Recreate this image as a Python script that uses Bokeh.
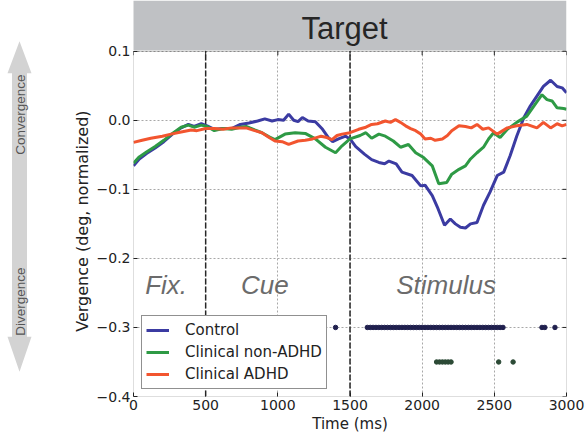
import math
from bokeh.plotting import figure
from bokeh.layouts import row
from bokeh.models import Range1d, FixedTicker, Label, BoxAnnotation
from bokeh.core.properties import value
from bokeh.embed import file_html
from bokeh.resources import INLINE

# ---------------- data ----------------
SERIES_NAMES = ["Control", "Clinical non-ADHD", "Clinical ADHD"]

T_CTRL = [0, 40, 90, 150, 210, 270, 330, 380, 420, 470, 510, 560, 620, 680, 740, 800,
          860, 910, 960, 1000, 1040, 1075, 1110, 1140, 1170, 1210, 1260, 1310, 1350, 1380,
          1420, 1470, 1500, 1540, 1600, 1650, 1700, 1740, 1770, 1820, 1860, 1930, 1990,
          2020, 2070, 2110, 2155, 2195, 2230, 2265, 2300, 2335, 2380, 2425, 2470, 2520,
          2565, 2610, 2655, 2705, 2750, 2795, 2840, 2890, 2935, 2970, 3000]
V_CTRL = [-0.066, -0.056, -0.048, -0.040, -0.031, -0.020, -0.011, -0.006, -0.009, -0.005,
          -0.008, -0.013, -0.012, -0.012, -0.006, -0.004, -0.001, 0.002, -0.001, 0.001,
          0.000, 0.009, 0.000, -0.002, 0.004, -0.001, -0.002, -0.013, -0.025, -0.031,
          -0.027, -0.023, -0.027, -0.038, -0.049, -0.057, -0.061, -0.063, -0.059, -0.063,
          -0.075, -0.080, -0.095, -0.094, -0.109, -0.128, -0.152, -0.143, -0.150, -0.155,
          -0.156, -0.150, -0.148, -0.123, -0.104, -0.080, -0.075, -0.051, -0.023, 0.004,
          0.021, 0.035, 0.049, 0.058, 0.049, 0.047, 0.040]

T_NON = [0, 40, 90, 150, 210, 270, 330, 380, 420, 470, 510, 560, 620, 680, 740, 780, 840,
         890, 940, 980, 1050, 1120, 1190, 1260, 1330, 1400, 1445, 1500, 1570, 1610, 1650,
         1700, 1745, 1800, 1850, 1905, 1955, 2010, 2070, 2115, 2170, 2205, 2255, 2300,
         2335, 2380, 2425, 2460, 2495, 2540, 2590, 2655, 2725, 2775, 2830, 2865, 2900,
         2935, 2980, 3000]
V_NON = [-0.062, -0.053, -0.046, -0.038, -0.029, -0.019, -0.010, -0.007, -0.010, -0.007,
         -0.009, -0.015, -0.012, -0.013, -0.010, -0.009, -0.014, -0.018, -0.024, -0.028,
         -0.020, -0.018, -0.019, -0.027, -0.039, -0.047, -0.037, -0.027, -0.022, -0.018,
         -0.026, -0.020, -0.023, -0.030, -0.039, -0.035, -0.047, -0.054, -0.066, -0.092,
         -0.090, -0.078, -0.071, -0.066, -0.056, -0.047, -0.039, -0.027, -0.018, -0.025,
         -0.013, -0.003, 0.006, 0.021, 0.037, 0.030, 0.028, 0.018, 0.017, 0.016]

T_ADHD = [0, 60, 120, 200, 260, 330, 400, 440, 500, 560, 620, 680, 740, 780, 840, 890,
          940, 980, 1030, 1075, 1140, 1190, 1240, 1300, 1340, 1375, 1410, 1445, 1500, 1560,
          1610, 1650, 1690, 1745, 1780, 1815, 1850, 1885, 1920, 1955, 1990, 2020, 2060,
          2090, 2140, 2175, 2205, 2255, 2300, 2340, 2380, 2420, 2460, 2520, 2590, 2655,
          2725, 2795, 2840, 2890, 2935, 2970, 3000]
V_ADHD = [-0.032, -0.029, -0.026, -0.023, -0.020, -0.017, -0.014, -0.015, -0.012, -0.012,
          -0.013, -0.011, -0.011, -0.011, -0.015, -0.018, -0.025, -0.030, -0.031, -0.035,
          -0.030, -0.029, -0.027, -0.023, -0.025, -0.028, -0.022, -0.020, -0.018, -0.013,
          -0.010, -0.006, -0.005, -0.001, -0.003, 0.001, -0.003, -0.008, -0.012, -0.015,
          -0.020, -0.027, -0.026, -0.029, -0.027, -0.022, -0.015, -0.008, -0.009, -0.011,
          -0.006, -0.013, -0.011, -0.020, -0.011, -0.008, -0.006, -0.011, -0.003, -0.011,
          -0.005, -0.008, -0.006]

# significance markers (time bins), and the level they are drawn at
SIG_CTRL_T = [1400, 1620, 1640, 1660, 1680, 1700, 1720, 1740, 1760, 1780, 1800, 1820,
              1840, 1860, 1880, 1900, 1920, 1940, 1960, 1980, 2000, 2020, 2040, 2060,
              2080, 2100, 2120, 2140, 2160, 2180, 2200, 2220, 2240, 2260, 2280, 2300,
              2320, 2340, 2360, 2380, 2400, 2420, 2440, 2460, 2480, 2500, 2520, 2540,
              2560, 2830, 2850, 2920]
SIG_CTRL_LEVEL = -0.30
SIG_NON_T = [2100, 2120, 2140, 2160, 2180, 2200, 2530, 2630]
SIG_NON_LEVEL = -0.35

PHASE_BOUNDS = [500, 1500]
PHASE_NAMES = ["Fix.", "Cue", "Stimulus"]
PHASE_LABEL_T = [226, 910, 2166]
PHASE_LABEL_V = -0.238

HEADER_TEXT = "Target"
ARROW_TEXTS = ["Convergence", "Divergence"]
Y_LABEL = "Vergence (deg, normalized)"
X_LABEL = "Time (ms)"

X_MIN, X_MAX = 0, 3000
Y_MIN, Y_MAX = -0.4, 0.1
X_TICKS = [0, 500, 1000, 1500, 2000, 2500, 3000]
X_TICK_LABELS = ["0", "500", "1000", "1500", "2000", "2500", "3000"]
Y_TICKS = [-0.4, -0.3, -0.2, -0.1, 0.0, 0.1]
Y_TICK_LABELS = ["\u22120.4", "\u22120.3", "\u22120.2", "\u22120.1", "0.0", "0.1"]

assert len(T_CTRL) == len(V_CTRL)
assert len(T_NON) == len(V_NON)
assert len(T_ADHD) == len(V_ADHD)

# ---------------- layout constants (pixels) ----------------
W_TOTAL, H_TOTAL = 588, 435
LEFT_W = 93                 # strip holding the arrow and the y-axis title
MAIN_W = W_TOTAL - LEFT_W
BORDER_L = 40               # main figure: left border (tick labels)
BORDER_R = 22
BORDER_B = 37
HEADER_H = 51               # header band above the data area
FRAME_H = H_TOTAL - BORDER_B                   # 398 (frames are aligned in the row)
PLOT_W = MAIN_W - BORDER_L - BORDER_R          # 433
PLOT_H = FRAME_H - HEADER_H                    # 347
PX_PER_X = PLOT_W / (X_MAX - X_MIN)
PX_PER_Y = PLOT_H / (Y_MAX - Y_MIN)
Y_TOP = Y_MAX + HEADER_H / PX_PER_Y            # range top that covers the header band
TICK_PX = 4

C_CTRL = "#3b3ba2"
C_NON = "#2e9a45"
C_ADHD = "#f2552f"
TXT = "#222222"
TICK_FONT = "DejaVu Sans"

# ---------------- main figure ----------------
p = figure(width=MAIN_W, height=H_TOTAL, x_range=Range1d(X_MIN, X_MAX),
           y_range=Range1d(Y_MIN, Y_TOP),
           min_border_left=BORDER_L, min_border_right=BORDER_R, min_border_top=0,
           min_border_bottom=BORDER_B, output_backend="svg", toolbar_location=None,
           title=None)
p.background_fill_color = "white"
p.border_fill_color = "white"
p.outline_line_color = None

xa = p.below[0]
ya = p.left[0]
xa.ticker = FixedTicker(ticks=X_TICKS)
ya.ticker = FixedTicker(ticks=Y_TICKS)
xa.major_label_overrides = dict(zip(X_TICKS, X_TICK_LABELS))
ya.major_label_overrides = dict(zip(Y_TICKS, Y_TICK_LABELS))
for ax in (xa, ya):
    ax.major_tick_in = TICK_PX
    ax.major_tick_out = 0
    ax.minor_tick_line_color = None
    ax.axis_line_color = None
    ax.major_tick_line_color = TXT
    ax.major_label_text_font = TICK_FONT
    ax.major_label_text_font_size = "14px"
    ax.major_label_text_color = TXT
    ax.major_label_standoff = 3
xa.axis_label = X_LABEL
xa.axis_label_text_font = TICK_FONT
xa.axis_label_text_font_size = "15px"
xa.axis_label_text_font_style = "normal"
xa.axis_label_text_color = TXT
xa.axis_label_standoff = 2

p.xgrid[0].ticker = FixedTicker(ticks=X_TICKS)
p.ygrid[0].ticker = FixedTicker(ticks=Y_TICKS)
for g in (p.xgrid[0], p.ygrid[0]):
    g.grid_line_color = "#a8a8a8"
    g.grid_line_dash = "2 2"
    g.grid_line_width = 1

# header band with title text (covers the grid above the data area)
p.quad(left=X_MIN - 1.3 / PX_PER_X, right=X_MAX, bottom=Y_MAX + 1 / PX_PER_Y, top=Y_TOP,
       fill_color="#bfc1c4", line_color=None)
p.text(x=[X_MIN + (344 - 133) / PX_PER_X], y=[Y_MAX + 23 / PX_PER_Y], text=[HEADER_TEXT],
       text_align="center", text_baseline="alphabetic",
       text_font=value("Liberation Sans"), text_font_size="31px", text_color="#262626")

# phase boundaries
p.segment(x0=PHASE_BOUNDS, y0=[Y_MIN] * len(PHASE_BOUNDS), x1=PHASE_BOUNDS,
          y1=[Y_MAX] * len(PHASE_BOUNDS), line_color="#262626", line_dash="6 2",
          line_width=1.5)

# top and right inward ticks (box style)
p.segment(x0=X_TICKS, y0=[Y_MAX] * len(X_TICKS), x1=X_TICKS,
          y1=[Y_MAX - TICK_PX / PX_PER_Y] * len(X_TICKS), line_color=TXT, line_width=1)
p.segment(x0=[X_MAX] * len(Y_TICKS), y0=Y_TICKS, x1=[X_MAX - TICK_PX / PX_PER_X] * len(Y_TICKS),
          y1=Y_TICKS, line_color=TXT, line_width=1)

# phase names
for txt, t in zip(PHASE_NAMES, PHASE_LABEL_T):
    p.add_layout(Label(x=t, y=PHASE_LABEL_V, text=txt, text_align="center",
                       text_baseline="alphabetic", text_font="Liberation Sans",
                       text_font_style="italic", text_font_size="26px",
                       text_color="#6b6b6b"))

# significance dots
p.scatter(SIG_CTRL_T, [SIG_CTRL_LEVEL] * len(SIG_CTRL_T), size=4.5,
          fill_color="#20204e", line_color="#20204e")
p.scatter(SIG_NON_T, [SIG_NON_LEVEL] * len(SIG_NON_T), size=4.5,
          fill_color="#2c4a36", line_color="#2c4a36")

# series
p.line(T_CTRL, V_CTRL, line_color=C_CTRL, line_width=3, legend_label=SERIES_NAMES[0])
p.line(T_NON, V_NON, line_color=C_NON, line_width=3, legend_label=SERIES_NAMES[1])
p.line(T_ADHD, V_ADHD, line_color=C_ADHD, line_width=3, legend_label=SERIES_NAMES[2])

# plot-area frame
p.add_layout(BoxAnnotation(left=X_MIN, right=X_MAX, bottom=Y_MIN, top=Y_MAX,
                           fill_alpha=0, line_color=TXT, line_width=1, level="overlay"))

lg = p.legend[0]
lg.location = (8, 7)
lg.margin = 0
lg.padding = 4
lg.spacing = 2
lg.label_height = 20
lg.glyph_height = 20
lg.glyph_width = 23
lg.label_standoff = 16
lg.border_line_color = TXT
lg.border_line_width = 1
lg.background_fill_color = "white"
lg.background_fill_alpha = 1
lg.label_text_font = TICK_FONT
lg.label_text_font_size = "15px"
lg.label_text_color = TXT

# ---------------- left strip: arrow + y-axis title ----------------
# its frame is the top FRAME_H pixels (aligned with the main figure's frame)
a = figure(width=LEFT_W, height=H_TOTAL, x_range=Range1d(0, LEFT_W),
           y_range=Range1d(FRAME_H, 0), x_axis_type=None, y_axis_type=None,
           min_border_left=0, min_border_right=0, min_border_top=0,
           min_border_bottom=BORDER_B, output_backend="svg", toolbar_location=None,
           title=None)
a.outline_line_color = None
a.grid.visible = False
a.background_fill_color = "white"
a.border_fill_color = "white"
AX = [19, 31, 26.5, 26.5, 31, 19, 7, 11.5, 11.5, 7]
AY = [41, 73, 73, 338, 338, 373, 338, 338, 73, 73]
a.patch(AX, AY, fill_color="#d3d3d3", line_color=None)
# rotated texts are anchored at their starting (lower) end
a.text(x=[19.5, 19.5], y=[155, 337], text=ARROW_TEXTS, angle=math.pi / 2,
       text_align="left", text_baseline="middle", text_font=value("Liberation Sans"),
       text_font_size="13.5px", text_color="#555555")
a.text(x=[82], y=[333], text=[Y_LABEL], angle=math.pi / 2,
       text_align="left", text_baseline="middle", text_font=value(TICK_FONT),
       text_font_size="16px", text_color=TXT)

layout = row(a, p)
open("out.html", "w").write(file_html(layout, INLINE))
